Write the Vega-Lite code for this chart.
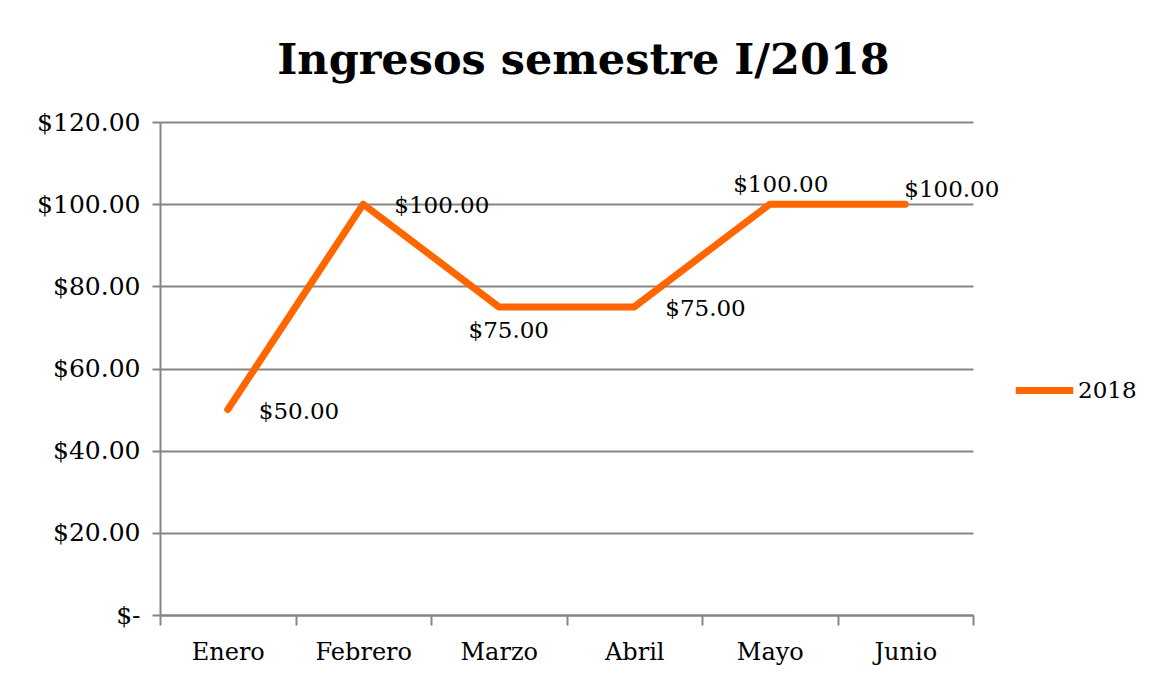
{
  "$schema": "https://vega.github.io/schema/vega-lite/v6.json",
  "width": 813,
  "height": 493,
  "autosize": {"type": "none"},
  "padding": {"left": 160, "top": 122, "right": 178, "bottom": 60},
  "background": "white",
  "config": {
    "font": "DejaVu Serif",
    "view": {"stroke": null}
  },
  "title": {
    "text": "Ingresos semestre I/2018",
    "font": "DejaVu Serif",
    "fontSize": 43,
    "fontWeight": "bold",
    "color": "black",
    "anchor": "middle",
    "dx": 17,
    "offset": 27
  },
  "data": {
    "values": [
      {"mes": "Enero", "ingreso": 50, "serie": "2018"},
      {"mes": "Febrero", "ingreso": 100, "serie": "2018"},
      {"mes": "Marzo", "ingreso": 75, "serie": "2018"},
      {"mes": "Abril", "ingreso": 75, "serie": "2018"},
      {"mes": "Mayo", "ingreso": 100, "serie": "2018"},
      {"mes": "Junio", "ingreso": 100, "serie": "2018"}
    ]
  },
  "encoding": {
    "x": {
      "field": "mes",
      "type": "ordinal",
      "sort": null,
      "scale": {"paddingInner": 0, "paddingOuter": 0},
      "axis": {
        "title": null,
        "labelAngle": 0,
        "labelFont": "DejaVu Serif",
        "labelFontSize": 24,
        "labelColor": "black",
        "labelPadding": 15,
        "tickBand": "extent",
        "tickSize": 10,
        "tickColor": "#868686",
        "tickWidth": 2,
        "domainColor": "#868686",
        "domainWidth": 2,
        "grid": false
      }
    },
    "y": {
      "field": "ingreso",
      "type": "quantitative",
      "scale": {"domain": [0, 120]},
      "axis": {
        "title": null,
        "values": [0, 20, 40, 60, 80, 100, 120],
        "labelExpr": "datum.value == 0 ? '$-' : format(datum.value, '$.2f')",
        "labelFont": "DejaVu Serif",
        "labelFontSize": 25,
        "labelColor": "black",
        "labelPadding": 12,
        "tickSize": 8,
        "tickColor": "#868686",
        "tickWidth": 2,
        "domainColor": "#868686",
        "domainWidth": 2,
        "grid": true,
        "gridColor": "#868686",
        "gridWidth": 2,
        "gridOpacity": 1
      }
    }
  },
  "layer": [
    {
      "mark": {"type": "line", "strokeWidth": 7, "strokeCap": "round", "strokeJoin": "round"},
      "encoding": {
        "color": {
          "field": "serie",
          "type": "nominal",
          "scale": {"range": ["#FF6600"]},
          "legend": {
            "title": null,
            "orient": "none",
            "legendX": 852,
            "legendY": 236,
            "symbolType": "stroke",
            "symbolSize": 3300,
            "symbolStrokeWidth": 7,
            "labelFont": "DejaVu Serif",
            "labelFontSize": 23,
            "labelColor": "black",
            "labelOffset": 1
          }
        }
      }
    },
    {
      "transform": [{"filter": "indexof(['Enero','Febrero','Abril'], datum.mes) >= 0"}],
      "mark": {"type": "text", "align": "left", "baseline": "middle", "dx": 31, "dy": 2, "fontSize": 23, "font": "DejaVu Serif", "color": "black"},
      "encoding": {"text": {"field": "ingreso", "type": "quantitative", "format": "$.2f"}}
    },
    {
      "transform": [{"filter": "datum.mes == 'Marzo'"}],
      "mark": {"type": "text", "align": "center", "baseline": "middle", "dx": 10, "dy": 24, "fontSize": 23, "font": "DejaVu Serif", "color": "black"},
      "encoding": {"text": {"field": "ingreso", "type": "quantitative", "format": "$.2f"}}
    },
    {
      "transform": [{"filter": "datum.mes == 'Mayo'"}],
      "mark": {"type": "text", "align": "center", "baseline": "middle", "dx": 11, "dy": -19, "fontSize": 23, "font": "DejaVu Serif", "color": "black"},
      "encoding": {"text": {"field": "ingreso", "type": "quantitative", "format": "$.2f"}}
    },
    {
      "transform": [{"filter": "datum.mes == 'Junio'"}],
      "mark": {"type": "text", "align": "left", "baseline": "middle", "dx": -1, "dy": -14, "fontSize": 23, "font": "DejaVu Serif", "color": "black"},
      "encoding": {"text": {"field": "ingreso", "type": "quantitative", "format": "$.2f"}}
    }
  ]
}
